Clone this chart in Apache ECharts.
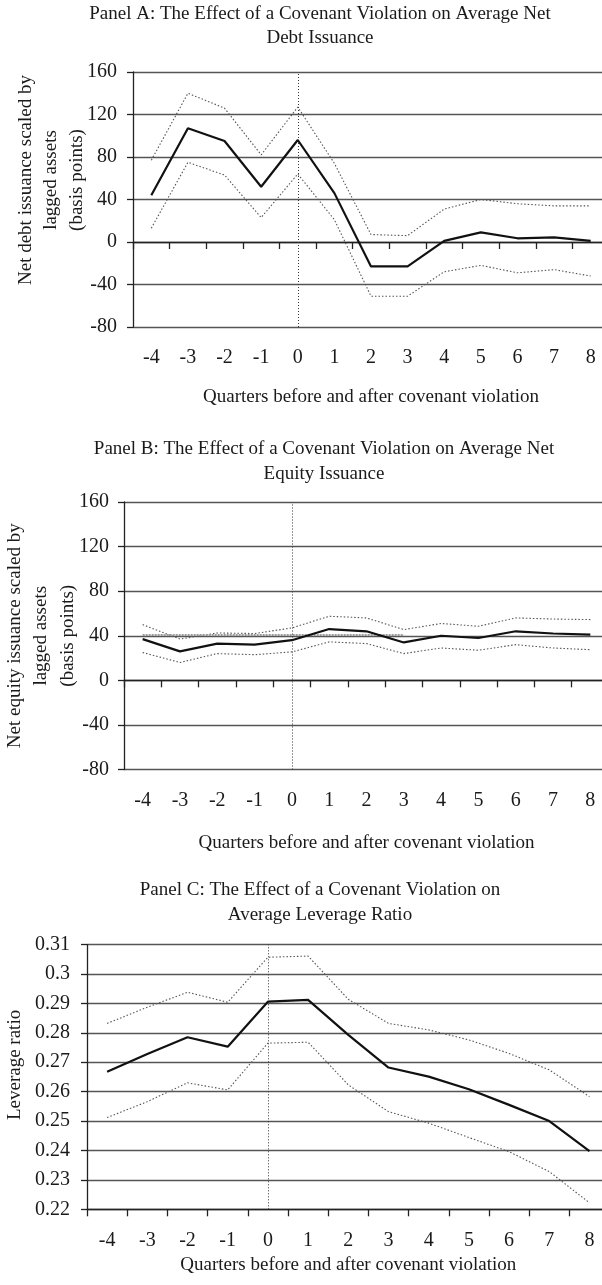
<!DOCTYPE html>
<html>
<head>
<meta charset="utf-8">
<script src="https://cdn.jsdelivr.net/npm/echarts@6/dist/echarts.min.js"></script>
<style>
html, body { margin: 0; padding: 0; background: #fff; }
#main { width: 602px; height: 1285px; }
</style>
</head>
<body>
<div id="main"></div>
<script>
// quarters relative to the covenant violation
const quarters = ['-4', '-3', '-2', '-1', '0', '1', '2', '3', '4', '5', '6', '7', '8']

// Panel A: net debt issuance (basis points), mean and confidence band
const debtMean = [44, 107, 95, 52, 96, 46, -23, -23, 1, 9, 3.5, 4.4, 1]
const debtUpper = [77, 140, 126, 82, 127, 74, 7, 6, 31, 40, 36, 34, 34]
const debtLower = [13, 75, 63, 23, 64, 21, -51, -51, -28, -22, -29, -26, -32]

// Panel B: net equity issuance (basis points)
const equityMean = [37, 26, 33, 32, 36, 46, 44, 34, 40, 38, 44, 42, 41]
const equityUpper = [50, 37, 42.5, 42, 47, 57.5, 56, 45.5, 51, 48.5, 56, 55, 54.5]
const equityLower = [25, 16, 24, 23, 25.5, 34.5, 33, 24, 29, 27, 32, 29, 27.5]

// Panel C: leverage ratio
const levMean = [0.2668, 0.2728, 0.2785, 0.2753, 0.2906, 0.2912, 0.2793, 0.2682, 0.2651, 0.2608, 0.2555, 0.2500, 0.2398]
const levUpper = [0.2832, 0.2887, 0.2938, 0.2904, 0.3057, 0.3061, 0.2914, 0.2832, 0.2810, 0.2776, 0.2730, 0.2674, 0.2583]
const levLower = [0.2512, 0.2566, 0.2630, 0.2606, 0.2765, 0.2768, 0.2623, 0.2532, 0.2493, 0.2444, 0.2396, 0.2328, 0.2222]

// y scales: [min, max, step]
const flowScale = [-80, 160, 40]
const levScale = [0.22, 0.31, 0.01]

const FONT = '"Liberation Serif", "Times New Roman", serif'
const TXT = '#1a1a1a'
const zeroIdx = quarters.indexOf('0')

function titleOpt(text, cx, top, lh) {
  return {
    text: text, left: cx, top: top, textAlign: 'center', padding: 0,
    textStyle: { fontFamily: FONT, fontSize: 19, fontWeight: 'normal', color: TXT, lineHeight: lh }
  }
}

// x axis carrying the labels and the name (at the bottom of the grid)
function labelAxis(gi, gap, showLine) {
  return {
    type: 'category', gridIndex: gi, data: quarters, position: 'bottom',
    axisLine: { show: showLine, onZero: false, lineStyle: { color: '#222', width: 1.3 } },
    axisTick: { show: showLine, length: 7, lineStyle: { color: '#222', width: 1.3 } },
    axisLabel: { fontFamily: FONT, fontSize: 20, color: TXT, margin: 21 },
    name: 'Quarters before and after covenant violation',
    nameLocation: 'middle', nameGap: gap, nameMoveOverlap: false,
    nameTextStyle: { fontFamily: FONT, fontSize: 19, color: TXT }
  }
}

// x axis drawn on the zero line with downward ticks, no labels
function zeroAxis(gi) {
  return {
    type: 'category', gridIndex: gi, data: quarters, position: 'top',
    axisLine: { show: true, onZero: true, lineStyle: { color: '#222', width: 1.3 } },
    axisTick: { show: true, inside: true, length: 7, lineStyle: { color: '#222', width: 1.3 } },
    axisLabel: { show: false }
  }
}

function valueAxis(gi, scale, name, gap, lh, padLeft, margin) {
  return {
    type: 'value', gridIndex: gi, min: scale[0], max: scale[1], interval: scale[2],
    axisLine: { show: true, lineStyle: { color: '#222', width: 1.3 } },
    axisTick: { show: true, length: 6, lineStyle: { color: '#222', width: 1.3 } },
    splitLine: { show: true, lineStyle: { color: '#555', width: 1.3 } },
    axisLabel: { fontFamily: FONT, fontSize: 20, color: TXT, margin: margin },
    name: name, nameLocation: 'middle', nameRotate: 90, nameGap: gap, nameMoveOverlap: false,
    nameTextStyle: { fontFamily: FONT, fontSize: 19, color: TXT, lineHeight: lh, padding: [0, 0, 0, padLeft] }
  }
}

function meanLine(xi, yi, data) {
  return {
    type: 'line', xAxisIndex: xi, yAxisIndex: yi, data: data, symbol: 'none', z: 5,
    lineStyle: { color: '#111', width: 2.2 },
    markLine: {
      silent: true, symbol: 'none', label: { show: false }, animation: false,
      lineStyle: { color: '#333', width: 1, type: [1, 2] },
      data: [{ xAxis: zeroIdx }]
    }
  }
}

function bandLine(xi, yi, data) {
  return {
    type: 'line', xAxisIndex: xi, yAxisIndex: yi, data: data, symbol: 'none', z: 4,
    lineStyle: { color: '#555', width: 1.1, type: [1.5, 2] }
  }
}

const chart = echarts.init(document.getElementById('main'), null, { renderer: 'canvas' })

const equityUpperSeries = bandLine(3, 1, equityUpper)
// grey hatched line near the 40 gridline in panel B
equityUpperSeries.markLine = {
  silent: true, symbol: 'none', label: { show: false }, animation: false,
  lineStyle: { color: '#999', width: 2, type: [2, 1] },
  data: [[{ coord: [0, 41.3] }, { coord: [7, 41.3] }]]
}

chart.setOption({
  animation: false,
  backgroundColor: '#fff',
  title: [
    titleOpt('Panel A: The Effect of a Covenant Violation on Average Net\nDebt Issuance', 320, 2, 24),
    titleOpt('Panel B: The Effect of a Covenant Violation on Average Net\nEquity Issuance', 324, 436.5, 25),
    titleOpt('Panel C: The Effect of a Covenant Violation on\nAverage Leverage Ratio', 320, 877.5, 25)
  ],
  grid: [
    { left: 133, top: 72, width: 476, height: 255, outerBoundsMode: 'none' },
    { left: 124, top: 502, width: 485, height: 267.5, outerBoundsMode: 'none' },
    { left: 87, top: 944.6, width: 522.6, height: 264.7, outerBoundsMode: 'none' }
  ],
  xAxis: [
    labelAxis(0, 61, false),
    zeroAxis(0),
    labelAxis(1, 64, false),
    zeroAxis(1),
    labelAxis(2, 46, true)
  ],
  yAxis: [
    valueAxis(0, flowScale, 'Net debt issuance scaled by\nlagged assets\n(basis points)', 43.5, 25.5, 39, 16),
    valueAxis(1, flowScale, 'Net equity issuance scaled by\nlagged assets\n(basis points)', 43, 26.5, 0, 15),
    valueAxis(2, levScale, 'Leverage ratio', 62, 20, 24, 17)
  ],
  series: [
    bandLine(0, 0, debtUpper),
    bandLine(0, 0, debtLower),
    meanLine(0, 0, debtMean),
    equityUpperSeries,
    bandLine(2, 1, equityLower),
    meanLine(2, 1, equityMean),
    bandLine(4, 2, levUpper),
    bandLine(4, 2, levLower),
    meanLine(4, 2, levMean)
  ]
})
</script>
</body>
</html>
